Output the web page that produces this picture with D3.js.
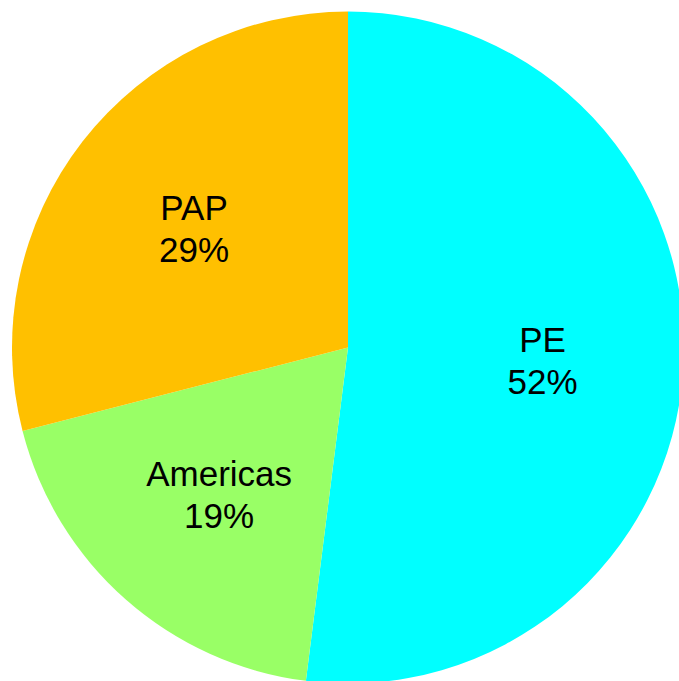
<!DOCTYPE html>
<html>
<head>
<meta charset="utf-8">
<script src="https://cdn.jsdelivr.net/npm/d3@7"></script>
<style>
    body { margin: 0; background: #fff; }
    svg { display: block; }
</style>
</head>
<body>
<script>
const categories = ['PE', 'Americas', 'PAP'];
const shares = [52, 19, 29];
const sliceColors = ['#00ffff', '#99ff66', '#ffc000'];

const width = 679, height = 681;
const cx = 348, cy = 347.5, radius = 336;

const data = categories.map((c, i) => ({ name: c, value: shares[i], color: sliceColors[i] }));

const svg = d3.select('body')
    .append('svg')
    .attr('width', width)
    .attr('height', height);

const g = svg.append('g')
    .attr('transform', 'translate(' + cx + ',' + cy + ')');

const pie = d3.pie()
    .value(d => d.value)
    .sort(null);

const arc = d3.arc()
    .innerRadius(0)
    .outerRadius(radius);

// labels sit roughly 58% of the way out
const labelArc = d3.arc()
    .innerRadius(radius * 0.58)
    .outerRadius(radius * 0.58);

const arcs = pie(data);

g.selectAll('.slice')
    .data(arcs)
    .enter()
    .append('path')
    .classed('slice', true)
    .attr('d', arc)
    .attr('fill', d => d.data.color);

const labels = g.selectAll('.label')
    .data(arcs)
    .enter()
    .append('text')
    .classed('label', true)
    .attr('transform', d => 'translate(' + labelArc.centroid(d) + ')')
    .attr('text-anchor', 'middle')
    .style('font-family', 'Arial, "Liberation Sans", sans-serif')
    .style('font-size', '35px')
    .attr('fill', '#000');

labels.append('tspan')
    .attr('x', 0)
    .attr('y', -8)
    .text(d => d.data.name);

labels.append('tspan')
    .attr('x', 0)
    .attr('y', 34)
    .text(d => d.data.value + '%');
</script>
</body>
</html>
